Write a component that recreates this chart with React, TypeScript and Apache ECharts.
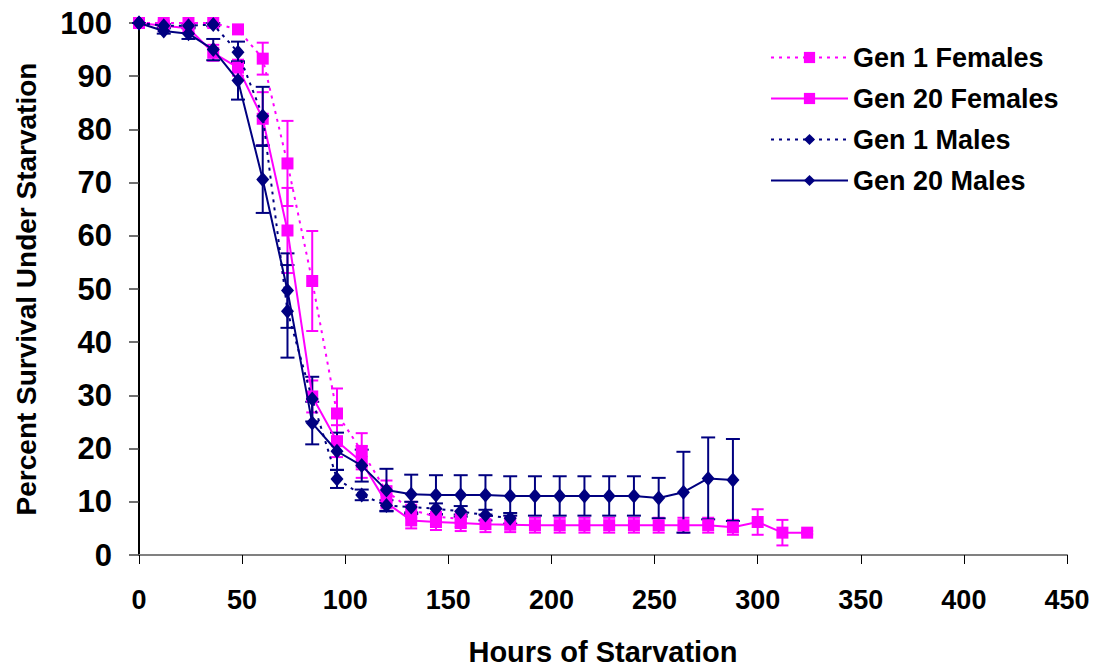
import React, { useEffect, useRef } from "react";
import * as echarts from "echarts";

const hours = [0, 12, 24, 36, 48, 60, 72, 84, 96, 108, 120, 132, 144, 156, 168, 180, 192, 204, 216, 228, 240, 252, 264, 276, 288, 300, 312, 324];

const gen1Females = [100, 100, 100, 100, 98.8, 93.3, 73.6, 51.5, 26.6, 19.5, 12, 8.5, 7.2, 6.8];
const gen1FemalesErr = [0, 0, 0, 0, 0.8, 3, 8, 9.4, 4.7, 3.4, 2, 1.5, 1.5, 1.5];

const gen20Females = [100, 99.5, 99, 94.4, 91.6, 82, 61, 29.8, 21.4, 17.5, 9.8, 6.5, 6.2, 6.0, 5.8, 5.7, 5.6, 5.6, 5.6, 5.6, 5.6, 5.6, 5.6, 5.6, 5.2, 6.2, 4.2, 4.2];
const gen20FemalesErr = [0, 0.5, 0.8, 1.5, 1.5, 5, 8, 3, 3, 3, 1.5, 1.5, 1.5, 1.5, 1.5, 1.4, 1.4, 1.4, 1.4, 1.4, 1.4, 1.4, 1.4, 1.4, 1.4, 2.4, 2.4, 0.3];

const gen1Males = [100, 99.5, 99.5, 99.7, 94.5, 82.5, 45.8, 29.3, 14.3, 11.3, 9.3, 9.0, 8.7, 8.2, 7.5, 6.9];
const gen1MalesErr = [0, 0.3, 0.3, 0.3, 2, 5.5, 8.7, 4.2, 1.7, 1, 1, 1, 1, 1, 1, 1];

const gen20Males = [100, 98.5, 98, 95, 89.2, 70.6, 49.7, 24.8, 19.5, 16.8, 12.2, 11.4, 11.3, 11.3, 11.3, 11.1, 11.1, 11.1, 11.1, 11.1, 11.1, 10.7, 11.8, 14.4, 14.1];
const gen20MalesErr = [0, 0.5, 1, 2, 3.6, 6.3, 7, 4, 3.5, 3, 4, 3.7, 3.7, 3.7, 3.7, 3.7, 3.7, 3.7, 3.7, 3.7, 3.7, 3.8, 7.6, 7.7, 7.7];

const xTicks = [0, 50, 100, 150, 200, 250, 300, 350, 400, 450];
const yTicks = [0, 10, 20, 30, 40, 50, 60, 70, 80, 90, 100];

const PINK = "#FF00FF";
const NAVY = "#000080";
const FONT = "'Liberation Sans', Arial, sans-serif";

function pts(vals: number[]) {
  return vals.map((v, i) => [hours[i], v]);
}
function errs(vals: number[], e: number[]) {
  return vals.map((v, i) => [hours[i], v - e[i], v + e[i]]);
}

function errSeries(name: string, vals: number[], e: number[], color: string, cap: number) {
  return {
    type: "custom",
    name: name + " err",
    data: errs(vals, e),
    encode: { x: 0, y: [1, 2] },
    z: 1,
    silent: true,
    renderItem: (params: any, api: any) => {
      const x = api.value(0);
      const lo = api.coord([x, api.value(1)]);
      const hi = api.coord([x, api.value(2)]);
      const st = { stroke: color, lineWidth: 2 };
      return {
        type: "group",
        children: [
          { type: "line", shape: { x1: lo[0], y1: lo[1], x2: hi[0], y2: hi[1] }, style: st },
          { type: "line", shape: { x1: lo[0] - cap, y1: lo[1], x2: lo[0] + cap, y2: lo[1] }, style: st },
          { type: "line", shape: { x1: hi[0] - cap, y1: hi[1], x2: hi[0] + cap, y2: hi[1] }, style: st },
        ],
      };
    },
  };
}

export default function App() {
  const ref = useRef<HTMLDivElement>(null);
  useEffect(() => {
    if (!ref.current) return;
    const chart = echarts.init(ref.current, null, { renderer: "svg" });
    chart.setOption({
      animation: false,
      backgroundColor: "#ffffff",
      grid: { left: 139, right: 38, top: 23, bottom: 111, containLabel: false },
      legend: {
        orient: "vertical",
        left: 765,
        top: 39,
        itemWidth: 77,
        itemHeight: 14,
        itemGap: 14,
        data: ["Gen 1 Females", "Gen 20 Females", "Gen 1 Males", "Gen 20 Males"],
        textStyle: { fontFamily: FONT, fontWeight: "bold", fontSize: 27, color: "#000" },
      },
      xAxis: {
        type: "value",
        min: 0,
        max: 450,
        interval: 50,
        name: "Hours of Starvation",
        nameLocation: "middle",
        nameGap: 82,
        nameTextStyle: { fontFamily: FONT, fontWeight: "bold", fontSize: 29, color: "#000" },
        axisLine: { show: true, onZero: false, lineStyle: { color: "#808080", width: 2 } },
        axisTick: { show: true, inside: false, length: 9, lineStyle: { color: "#000", width: 1 } },
        axisLabel: {
          margin: 31,
          fontFamily: FONT,
          fontWeight: "bold",
          fontSize: 27,
          color: "#000",
          customValues: xTicks,
        },
        splitLine: { show: false },
      },
      yAxis: {
        type: "value",
        min: 0,
        max: 100,
        interval: 10,
        name: "Percent Survival Under Starvation",
        nameLocation: "middle",
        nameGap: 99,
        nameRotate: 90,
        nameTextStyle: { fontFamily: FONT, fontWeight: "bold", fontSize: 28, color: "#000" },
        axisLine: { show: true, lineStyle: { color: "#000", width: 2 } },
        axisTick: { show: true, inside: false, length: 10, lineStyle: { color: "#404040", width: 1.5 } },
        axisLabel: {
          margin: 27,
          fontFamily: FONT,
          fontWeight: "bold",
          fontSize: 31,
          color: "#000",
          customValues: yTicks,
        },
        splitLine: { show: false },
      },
      series: [
        errSeries("Gen 1 Females", gen1Females, gen1FemalesErr, PINK, 6),
        errSeries("Gen 20 Females", gen20Females, gen20FemalesErr, PINK, 6),
        errSeries("Gen 1 Males", gen1Males, gen1MalesErr, NAVY, 7),
        errSeries("Gen 20 Males", gen20Males, gen20MalesErr, NAVY, 7),
        {
          type: "line",
          name: "Gen 1 Females",
          data: pts(gen1Females),
          symbol: "rect",
          symbolSize: 12,
          z: 2,
          lineStyle: { color: PINK, width: 2, type: [3, 5] },
          itemStyle: { color: PINK },
        },
        {
          type: "line",
          name: "Gen 20 Females",
          data: pts(gen20Females),
          symbol: "rect",
          symbolSize: 12,
          z: 3,
          lineStyle: { color: PINK, width: 2, type: "solid" },
          itemStyle: { color: PINK },
        },
        {
          type: "line",
          name: "Gen 1 Males",
          data: pts(gen1Males),
          symbol: "diamond",
          symbolSize: [13, 15],
          z: 4,
          lineStyle: { color: NAVY, width: 2, type: [3, 5] },
          itemStyle: { color: NAVY },
        },
        {
          type: "line",
          name: "Gen 20 Males",
          data: pts(gen20Males),
          symbol: "diamond",
          symbolSize: [13, 15],
          z: 5,
          lineStyle: { color: NAVY, width: 2, type: "solid" },
          itemStyle: { color: NAVY },
        },
      ],
    });
    return () => chart.dispose();
  }, []);
  return (
    <div
      ref={ref}
      style={{ position: "fixed", left: 0, top: 0, width: 1105, height: 671, background: "#fff" }}
    />
  );
}
